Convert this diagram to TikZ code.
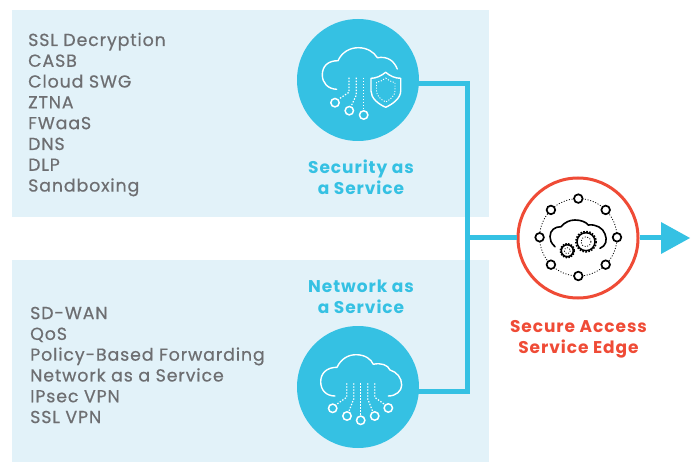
\documentclass[tikz,border=0pt]{standalone}
\usepackage{fontspec}
\setmainfont{Poppins}
\newfontfamily\listfont[LetterSpace=5,FakeBold=0.5]{Poppins}
\newfontfamily\labelfont[LetterSpace=5.5,BoldFont={Poppins Bold}]{Poppins}
\usetikzlibrary{calc}
\definecolor{panelblue}{HTML}{E2F2F9}
\definecolor{cyanmain}{HTML}{35C1E3}
\definecolor{redmain}{HTML}{EF4B36}
\definecolor{greytext}{HTML}{6D6E71}
\tikzset{
  x=1pt,y=-1pt,
  panel/.style={fill=panelblue,draw=none},
  disc/.style={circle,fill=cyanmain,draw=none,minimum size=122pt,inner sep=0pt},
  sase/.style={circle,fill=white,draw=redmain,line width=3pt,minimum size=120pt,inner sep=0pt},
  listtext/.style={anchor=west,align=left,inner sep=0pt,text=greytext,font=\listfont\fontsize{17.4}{20.8}\selectfont},
  svclabel/.style={align=center,inner sep=0pt,text=cyanmain,font=\labelfont\fontsize{17}{21}\selectfont\bfseries},
  redlabel/.style={align=center,inner sep=0pt,text=redmain,font=\labelfont\fontsize{17}{21}\selectfont\bfseries},
  link/.style={draw=cyanmain,line width=5pt},
  iconline/.style={draw=white,line width=1.4pt,line cap=round,line join=round},
  icondots/.style={draw=white,line width=1.2pt,dash pattern=on 1.4pt off 1.6pt},
  iconring/.style={draw=white,line width=1.5pt},
  blackline/.style={draw=black,line width=1.6pt,line cap=round,line join=round},
  blackdots/.style={draw=black,line width=.8pt,dash pattern=on 1pt off 1.7pt},
}
\begin{document}
\begin{tikzpicture}
\useasboundingbox (0,0) rectangle (696,462);
\fill[panel] (12,10) rectangle (489,217);
\fill[panel] (12,260) rectangle (489,462);

% connectors
\node[disc] (sec) at (358,80) {};
\node[disc] (net) at (358,387) {};
\node[sase] (edge) at (578,238) {};
\coordinate (tr) at (467,84);
\coordinate (br) at (467,391);
\coordinate (mid) at (467,238);
\coordinate (tip) at (690,238);
\draw[link,line join=miter] ($(sec.center)+(50,4)$) -- (tr) -- (br) -- ($(net.center)+(50,4)$);
\draw[link] (mid) -- (edge.west);
\draw[link] (edge.east) -- (662,238);
\fill[cyanmain] (661,222) -- (tip) -- (661,254) -- cycle;

% texts
\node[listtext] (seclist) at (28,114.5) {SSL Decryption\\CASB\\Cloud SWG\\ZTNA\\FWaaS\\DNS\\DLP\\Sandboxing};
\node[listtext] (netlist) at (30,365) {SD-WAN\\QoS\\Policy-Based Forwarding\\Network as a Service\\IPsec VPN\\SSL VPN};
\node[svclabel] (seclabel) at (361,177.5) {Security as\\a Service};
\node[svclabel] (netlabel) at (361,296.5) {Network as\\a Service};
\node[redlabel] (edgelabel) at (578.5,339.5) {Secure Access\\Service Edge};

% security icon
\draw[iconline] (336.7,89.3) .. controls (328,89) and (322.3,83) .. (322.3,75) .. controls (322.3,66) and (328,60.7) .. (338,60.7) .. controls (342,52) and (350,47.7) .. (358.3,47.7) .. controls (367,47.7) and (374,52) .. (377.3,57.7) .. controls (388,56) and (394,61) .. (397.3,69);
\draw[icondots] (349,77.7) -- (349,92.3) -- (340,98.3);
\draw[icondots] (356.3,77.7) -- (356.3,95) -- (351.7,105);
\draw[icondots] (363.3,77.7) -- (363.3,110);
\draw[iconring] (335,102.7) circle (4.2) (349.3,110.7) circle (4.2) (363.7,115) circle (4.2);
\draw[iconline] (385.7,72.3) .. controls (390,76) and (395,78.3) .. (400.7,78.3) -- (400.7,91) .. controls (400.7,98) and (393,104) .. (385.7,107.3) .. controls (378,104) and (371,98) .. (371,91) -- (371,78.3) .. controls (376,78.3) and (381,76) .. (385.7,72.3) -- cycle;
\draw[draw=white,line width=.9pt,dash pattern=on 1.1pt off 1.6pt] (385.7,78) .. controls (388,80) and (391,82) .. (395,82.5) -- (395,91) .. controls (395,96) and (390,99.5) .. (385.7,102) .. controls (381,99.5) and (376.5,96) .. (376.5,91) -- (376.5,82.5) .. controls (380,82) and (383,80) .. (385.7,78) -- cycle;

% network icon
\draw[iconline] (335,396) .. controls (326,396) and (320.7,390) .. (320.7,381.7) .. controls (320.7,373) and (327,367.3) .. (337,367.3) .. controls (341,359) and (348,354.7) .. (356,354.7) .. controls (365,354.7) and (371,359) .. (373.3,364.3) .. controls (381,362.5) and (388,365) .. (390,370) .. controls (397,372) and (401.7,378) .. (401.7,385) .. controls (401.7,391) and (396,396) .. (388.3,396);
\draw[icondots] (346.7,383.3) -- (346.7,397.3) -- (337,404);
\draw[icondots] (353.7,383.3) -- (353.7,399) -- (349,411);
\draw[icondots] (360.7,383.3) -- (360.7,415);
\draw[icondots] (367.7,383.3) -- (367.7,399) -- (372.5,411);
\draw[icondots] (374.7,383.3) -- (374.7,397.3) -- (384,404);
\draw[iconring] (332.7,408.3) circle (4.2) (347,416) circle (4.2) (360.7,420.3) circle (4.2) (374.7,416) circle (4.2) (388.3,408) circle (4.2);

% edge icon
\draw[blackdots] (578.3,237.3) circle (38.7);
\foreach \a in {0,45,...,315}
  \draw[black,fill=white,line width=1.7pt] ($(578.3,237.3)+(\a:38.7)$) circle (4.3);
\draw[blackline] (555,246.7) .. controls (551,243) and (550,240) .. (550,236.7) .. controls (550,230) and (555,226.7) .. (561,226.7) .. controls (565,222) and (570,220) .. (575,220) .. controls (581,220) and (586,222) .. (588.3,225) .. controls (596,224) and (603,228) .. (605,234) .. controls (607.5,240) and (606,246) .. (600,248.3);
\fill[white] (586,241.7) circle (11.5);
\fill[white] (567.3,250.7) circle (8.5);
\draw[black,line width=1.5pt] (586,241.7) circle (9);
\draw[black,line width=1.6pt,dash pattern=on 1.6pt off 1.4pt] (586,241.7) circle (10.2);
\draw[blackdots] (586,241.7) circle (5);
\draw[black,line width=1.6pt] (567.3,250.7) circle (6);
\draw[black,line width=1.5pt,dash pattern=on 1.5pt off 1.3pt] (567.3,250.7) circle (7);
\draw[blackdots] (567.3,250.7) circle (3);
\end{tikzpicture}
\end{document}
